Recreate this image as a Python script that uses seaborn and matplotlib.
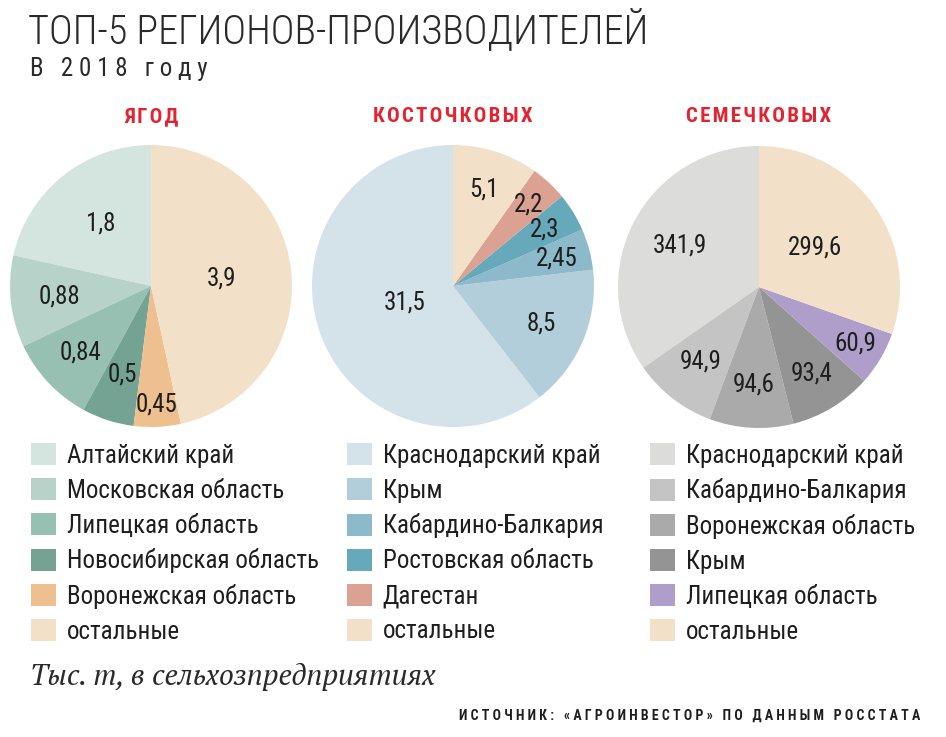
import matplotlib
matplotlib.use("Agg")
import matplotlib.pyplot as plt
import seaborn as sns
import numpy as np

sns.set_theme(style="white")
COND = ["Roboto Condensed", "DejaVu Sans"]
plt.rcParams["font.family"] = COND

# ---------------- data ----------------
berry_labels = ["Алтайский край", "Московская область", "Липецкая область",
                "Новосибирская область", "Воронежская область", "остальные"]
berry_values = [1.8, 0.88, 0.84, 0.5, 0.45, 3.9]
berry_text = ["1,8", "0,88", "0,84", "0,5", "0,45", "3,9"]

stone_labels = ["Краснодарский край", "Крым", "Кабардино-Балкария",
                "Ростовская область", "Дагестан", "остальные"]
stone_values = [31.5, 8.5, 2.45, 2.3, 2.2, 5.1]
stone_text = ["31,5", "8,5", "2,45", "2,3", "2,2", "5,1"]

seed_labels = ["Краснодарский край", "Кабардино-Балкария", "Воронежская область",
               "Крым", "Липецкая область", "остальные"]
seed_values = [341.9, 94.9, 94.6, 93.4, 60.9, 299.6]
seed_text = ["341,9", "94,9", "94,6", "93,4", "60,9", "299,6"]

titles = ["ЯГОД", "КОСТОЧКОВЫХ", "СЕМЕЧКОВЫХ"]

# ---------------- style ----------------
berry_colors = ["#d4e4df", "#b7d3c9", "#98c0b2", "#74a393", "#eebf8f", "#f3e0c8"]
stone_colors = ["#d4e2e9", "#b2cedb", "#8cbacb", "#66a9bb", "#dba193", "#f3e0c8"]
seed_colors = ["#dcdcda", "#c4c4c4", "#aaaaaa", "#949494", "#ae9ec9", "#f3e0c8"]

berry_r = [0.57, 0.65, 0.69, 0.66, 0.84, 0.50]
stone_r = [0.36, 0.68, 0.76, 0.76, 0.79, 0.72]
seed_r = [0.63, 0.67, 0.69, 0.72, 0.79, 0.49]

W, H = 946, 737
fig = plt.figure(figsize=(W / 100, H / 100), dpi=100)
fig.patch.set_facecolor("white")

centers = [(151, 286), (453, 286), (759, 287)]
R = 141
legend_pos = [(31, 443), (347, 443), (650, 443)]

sets = [
    (berry_labels, berry_values, berry_text, berry_colors, berry_r),
    (stone_labels, stone_values, stone_text, stone_colors, stone_r),
    (seed_labels, seed_values, seed_text, seed_colors, seed_r),
]

for i, (labs, vals, txts, cols, rads) in enumerate(sets):
    cx, cy = centers[i]
    ax = fig.add_axes([(cx - R) / W, (H - cy - R) / H, 2 * R / W, 2 * R / H])
    wedges, _ = ax.pie(vals, colors=cols, startangle=90, counterclock=True,
                       radius=1, wedgeprops=dict(linewidth=0))
    ax.set_xlim(-1, 1)
    ax.set_ylim(-1, 1)
    ax.set_aspect("equal")
    ax.axis("off")
    for w, t, r in zip(wedges, txts, rads):
        ang = np.deg2rad((w.theta1 + w.theta2) / 2)
        ax.text(r * np.cos(ang), r * np.sin(ang), t, ha="center", va="center",
                fontsize=18, color="#1e1e1e")
    fig.text(cx / W, 1 - 117 / H, "\u200a".join(titles[i]), ha="center", va="center",
             fontsize=15, fontweight="bold", color="#e52330")
    lx, ly = legend_pos[i]
    fig.legend(wedges, labs, loc="upper left", bbox_to_anchor=(lx / W, 1 - ly / H),
               bbox_transform=fig.transFigure, frameon=False,
               prop=dict(family=COND, size=18),
               handlelength=0.98, handleheight=0.98, handletextpad=0.45,
               labelspacing=0.42, borderpad=0, borderaxespad=0,
               labelcolor="#1e1e1e")

fig.text(28 / W, 1 - 30 / H, "ТОП-5 РЕГИОНОВ-ПРОИЗВОДИТЕЛЕЙ", ha="left", va="center",
         fontsize=29, fontweight="light", color="#2a2a2a")
subtitle = "В 2018 году"
sub_spaced = "   ".join(" ".join(word) for word in subtitle.split(" "))
fig.text(30 / W, 1 - 69 / H, sub_spaced, ha="left", va="center",
         fontsize=18, color="#2a2a2a")
fig.text(30 / W, 1 - 677 / H, "Тыс. т, в сельхозпредприятиях", ha="left", va="center",
         fontsize=21, style="italic", family=["PT Serif", "DejaVu Serif"],
         color="#2a2a2a")
src = "ИСТОЧНИК: «АГРОИНВЕСТОР» ПО ДАННЫМ РОССТАТА"
src_spaced = "   ".join(" ".join(word) for word in src.split(" "))
fig.text(920 / W, 1 - 716 / H, src_spaced, ha="right", va="center",
         fontsize=10, fontweight="bold", color="#1e1e1e", family=COND)

fig.savefig("out.png", dpi=100, facecolor="white")
